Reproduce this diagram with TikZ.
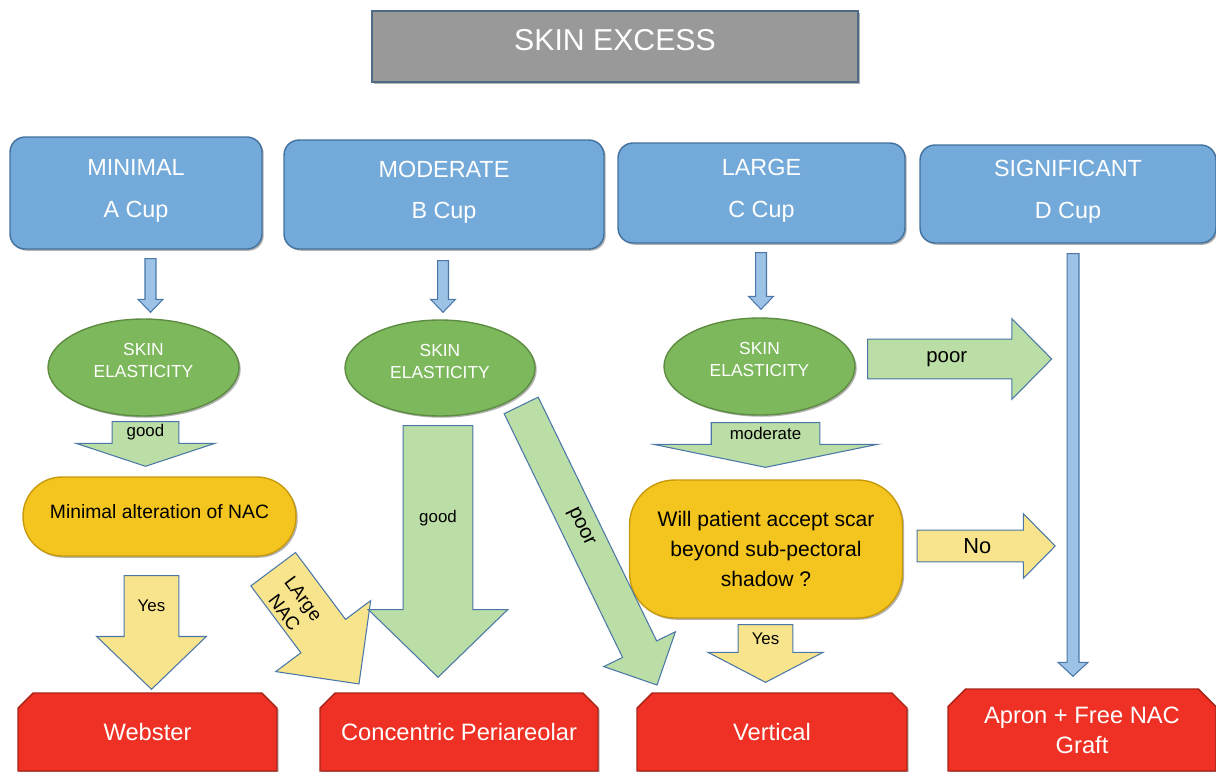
\documentclass[tikz,border=0pt]{standalone}
\usepackage{fontspec}
\setmainfont{Liberation Sans}
\usetikzlibrary{shapes.geometric,shapes.misc,calc,shadows}

\definecolor{cupblue}{HTML}{74AADA}
\definecolor{cupline}{HTML}{41719C}
\definecolor{elgreen}{HTML}{7DB95C}
\definecolor{elline}{HTML}{5E8C42}
\definecolor{argreen}{HTML}{BBDDA6}
\definecolor{aryellow}{HTML}{F8E48C}
\definecolor{boxyellow}{HTML}{F4C51F}
\definecolor{boxyline}{HTML}{C79A0C}
\definecolor{endred}{HTML}{EE3124}
\definecolor{endline}{HTML}{A82317}
\definecolor{titlegray}{HTML}{999999}
\definecolor{titleline}{HTML}{4F6A87}
\definecolor{arline}{HTML}{4A77A8}
\definecolor{thinblue}{HTML}{9CC2E5}

\tikzset{
  softshadow/.style={drop shadow={shadow xshift=1pt, shadow yshift=-1pt, opacity=0.3, fill=black}},
  titlebox/.style={rectangle, fill=titlegray, draw=titleline, line width=0.8pt, text=white,
    font=\fontsize{17.2}{20}\selectfont, text height=12.5pt, text depth=7.5pt, softshadow},
  cupbox/.style={rectangle, rounded corners=0.3cm, fill=cupblue, draw=cupline, line width=0.8pt,
    text=white, align=center, inner sep=0pt, font=\fontsize{13.3}{23.8}\selectfont,
    text height=34pt, text depth=6.3pt, softshadow},
  elastic/.style={ellipse, fill=elgreen, draw=elline, line width=0.8pt, text=white, align=center,
    inner sep=0pt, font=\fontsize{9.9}{12.5}\selectfont, text height=20pt, text depth=8.1pt, softshadow},
  question/.style={rectangle, fill=boxyellow, draw=boxyline, line width=0.8pt, text=black,
    align=center, inner sep=0pt, softshadow},
  outcome/.style={chamfered rectangle, chamfered rectangle corners={north west,north east},
    chamfered rectangle xsep=6.5pt, fill=endred, draw=endline, line width=0.8pt, text=white,
    align=center, inner sep=0pt, font=\fontsize{13.5}{17}\selectfont, softshadow},
  oneline/.style={text height=9.7pt, text depth=0.3pt},
  grnarrow/.style={fill=argreen, draw=arline, line width=0.6pt},
  ylwarrow/.style={fill=aryellow, draw=arline, line width=0.6pt},
  thinarrow/.style={fill=thinblue, draw=arline, line width=0.6pt},
  lbl/.style={text=black, align=center, inner sep=0pt, font=\fontsize{9.6}{11}\selectfont}
}

% block arrow: [style]{from}{to}{shaft}{head}{head length}{label options}{label}
\newcommand\blockarrow[8][]{%
  \path[#1] let \p1=#2, \p2=#3,
      \n1={atan2(\y2-\y1,\x2-\x1)},
      \n2={veclen(\x2-\x1,\y2-\y1)},
      \n3={#4*0.28346pt}, \n4={#5*0.28346pt},
      \n5={\n2-#6*0.56693pt} in
    ([shift={(\p1)},rotate=\n1]0pt,\n3) -- ([shift={(\p1)},rotate=\n1]\n5,\n3)
    -- ([shift={(\p1)},rotate=\n1]\n5,\n4) -- ([shift={(\p1)},rotate=\n1]\n2,0pt)
    -- ([shift={(\p1)},rotate=\n1]\n5,-\n4) -- ([shift={(\p1)},rotate=\n1]\n5,-\n3)
    -- ([shift={(\p1)},rotate=\n1]0pt,-\n3) -- cycle
    ([shift={(\p1)},rotate=\n1]{\n5/2},0pt) node[lbl,#7] {#8};
}

\begin{document}
\begin{tikzpicture}[x=0.02cm, y=-0.02cm]
\clip (0,0) rectangle (1216,771);

% top
\node[titlebox, minimum width=9.72cm, minimum height=1.42cm] (title) at (615,46.5) {SKIN EXCESS};

% cup sizes
\node[cupbox, minimum width=5.04cm, minimum height=2.24cm] (cupA) at (136,193) {MINIMAL\\A Cup};
\node[cupbox, minimum width=6.4cm, minimum height=2.18cm] (cupB) at (444,194.5) {MODERATE\\B Cup};
\node[cupbox, minimum width=5.74cm, minimum height=2.0cm] (cupC) at (761.5,193) {LARGE\\C Cup};
\node[cupbox, minimum width=5.92cm, minimum height=1.96cm] (cupD) at (1068,194) {SIGNIFICANT\\D Cup};

% elasticity
\node[elastic, minimum width=3.82cm, minimum height=1.94cm] (elA) at (143.5,367.5) {SKIN\\ELASTICITY};
\node[elastic, minimum width=3.8cm, minimum height=1.92cm] (elB) at (440,368) {SKIN\\ELASTICITY};
\node[elastic, minimum width=3.82cm, minimum height=1.94cm] (elC) at (759.5,366.5) {SKIN\\ELASTICITY};

% questions
\node[question, rounded corners=0.78cm, minimum width=5.46cm, minimum height=1.58cm,
  font=\fontsize{11}{13}\selectfont, text height=8pt, text depth=6pt] (minA) at (159.5,516.5)
  {Minimal alteration of NAC};
\node[question, rounded corners=0.9cm, minimum width=5.46cm, minimum height=2.76cm,
  font=\fontsize{12}{17}\selectfont] (willC) at (766,549)
  {Will patient accept scar\\beyond sub-pectoral\\shadow ?};

% outcomes
\node[outcome, oneline, minimum width=5.18cm, minimum height=1.56cm] (webster) at (147.5,732) {Webster};
\node[outcome, oneline, minimum width=5.56cm, minimum height=1.56cm] (concentric) at (459,732) {Concentric Periareolar};
\node[outcome, oneline, minimum width=5.4cm, minimum height=1.56cm] (vertical) at (772,732) {Vertical};
\node[outcome, minimum width=5.36cm, minimum height=1.64cm] (apron) at (1082,730) {Apron + Free NAC\\Graft};

% thin arrows
\blockarrow[thinarrow]{($(cupA.south)+(14.5,9)$)}{($(elA.north)+(7,-6)$)}{11}{25}{13}{}{}
\blockarrow[thinarrow]{($(cupB.south)+(-1,11)$)}{($(elB.north)+(3,-7)$)}{11}{25}{13}{}{}
\blockarrow[thinarrow]{($(cupC.south)+(-0.5,9)$)}{($(elC.north)+(1.5,-8)$)}{11}{25}{13}{}{}
\blockarrow[thinarrow]{($(cupD.south)+(5,10)$)}{($(apron.north)+(-9,-12)$)}{12}{30}{14}{}{}

% column A
\blockarrow[grnarrow]{($(elA.south)+(2,5)$)}{($(minA.north)+(-14,-10)$)}{67}{139}{23}{}{good}
\blockarrow[ylwarrow]{($(minA.south)+(-8,19)$)}{($(webster.north)+(4,-3)$)}{55}{110}{53}{}{Yes}
\blockarrow[ylwarrow]{($(minA.south east)+(-23.5,12.5)$)}{($(concentric.north west)+(32,-16)$)}{56}{119}{60}
  {rotate=\n1, yshift=-3pt, font=\fontsize{10.6}{13.5}\selectfont}{LArge\\NAC}

% column B
\blockarrow[grnarrow]{($(elB.south)+(-2,9)$)}{($(concentric.north)+(-21,-15)$)}{70}{140}{68}{}{good}
\blockarrow[grnarrow]{($(elB.south east)+(13.5,3)$)}{($(vertical.north west)+(13,-15)$)}{38}{80}{40}
  {rotate=\n1, font=\fontsize{11.5}{13}\selectfont}{poor}

% column C
\blockarrow[grnarrow]{($(elC.south)+(6,7)$)}{($(willC.north)+(-0.5,-12)$)}{109}{224}{23}{}{moderate}
\blockarrow[grnarrow]{($(elC.east)+(12,-7.5)$)}{($(elC.east)+(196,-7.5)$)}{40}{81}{40}
  {xshift=4pt, font=\fontsize{11.6}{13}\selectfont}{poor}
\blockarrow[ylwarrow]{($(willC.east)+(14,-3)$)}{($(willC.east)+(152,-3)$)}{32}{65}{32}
  {xshift=4pt, font=\fontsize{12.4}{14}\selectfont}{No}
\blockarrow[ylwarrow]{($(willC.south)+(-0.5,6)$)}{($(vertical.north)+(-6.5,-10)$)}{55}{115}{30}{}{Yes}
\end{tikzpicture}
\end{document}
